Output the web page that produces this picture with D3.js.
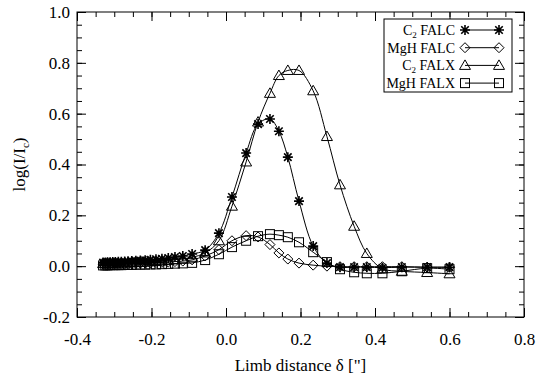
<!DOCTYPE html>
<html><head><meta charset="utf-8">
<script src="https://cdn.jsdelivr.net/npm/d3@7/dist/d3.min.js"></script>
<style>body{margin:0;background:#fff}svg text{font-family:"Liberation Serif","Times New Roman",serif !important;fill:#000}</style>
</head><body><svg id="c" width="552" height="382"></svg>
<script>
// Limb distance grid (arcsec)
const limbDist = [-0.330,-0.324,-0.318,-0.311,-0.304,-0.297,-0.289,-0.281,-0.272,-0.263,-0.253,-0.242,-0.230,-0.217,-0.203,-0.188,-0.172,-0.155,-0.137,-0.116,-0.091,
  -0.056,-0.019,0.016,0.054,0.086,0.118,0.142,0.166,0.196,0.234,0.271,0.306,0.344,0.378,0.420,0.472,0.540,0.600];
const c2Falc = [0.014,0.014,0.015,0.015,0.016,0.016,0.017,0.017,0.018,0.019,0.020,0.021,0.022,0.023,0.025,0.027,0.029,0.032,0.036,0.040,0.048,
  0.063,0.130,0.272,0.445,0.559,0.579,0.531,0.429,0.256,0.079,0.012,-0.004,-0.004,-0.004,-0.006,-0.004,-0.004,-0.004];
const mghFalc = [0.008,0.008,0.008,0.009,0.009,0.009,0.009,0.010,0.010,0.010,0.011,0.011,0.012,0.012,0.013,0.014,0.015,0.016,0.018,0.020,0.025,
  0.040,0.065,0.100,0.120,0.115,0.085,0.052,0.028,0.012,0.004,0.000,-0.002,-0.002,-0.002,-0.002,-0.002,-0.004,-0.004];
const c2Falx = [0.010,0.010,0.011,0.011,0.011,0.012,0.012,0.012,0.013,0.013,0.014,0.014,0.015,0.016,0.017,0.018,0.020,0.022,0.025,0.029,0.035,
  0.052,0.100,0.236,0.410,0.567,0.680,0.750,0.770,0.770,0.690,0.510,0.320,0.157,0.050,-0.010,-0.020,-0.025,-0.030];
const mghFalx = [0.003,0.003,0.003,0.004,0.004,0.004,0.004,0.004,0.005,0.005,0.005,0.006,0.006,0.006,0.007,0.007,0.008,0.009,0.010,0.011,0.013,
  0.024,0.047,0.075,0.100,0.118,0.126,0.122,0.114,0.094,0.055,0.016,-0.012,-0.024,-0.028,-0.028,-0.020,-0.008,-0.012];

const xTicks = [-0.4,-0.2,0.0,0.2,0.4,0.6,0.8];
const xTickLabels = ["-0.4","-0.2","0.0","0.2","0.4","0.6","0.8"];
const yTicks = [-0.2,0.0,0.2,0.4,0.6,0.8,1.0];
const yTickLabels = ["-0.2","0.0","0.2","0.4","0.6","0.8","1.0"];
const seriesNames = ["C2 FALC","MgH FALC","C2 FALX","MgH FALX"];
const seriesMarkers = ["asterisk","diamond","triangle","square"];

const FONT = '"Liberation Serif","Times New Roman",serif';
const svg = d3.select("#c");
svg.append("rect").attr("width",552).attr("height",382).attr("fill","#fff");
const L=77,R=524,T=12,B=317;
const x = d3.scaleLinear().domain([-0.4,0.8]).range([L,R]);
const y = d3.scaleLinear().domain([-0.2,1.0]).range([B,T]);

const xMinor = d3.range(-0.4,0.8001,0.05).map(v=>+v.toFixed(2));
const yMinor = d3.range(-0.2,1.0001,0.05).map(v=>+v.toFixed(2));
const fmt = (ticks,labels)=> d => labels[ticks.findIndex(t=>Math.abs(t-d)<1e-9)];

function axis(gen, pos, ticks, labels, minor, pad){
  const gMin = svg.append("g").attr("transform",pos)
    .call(gen.tickValues(minor).tickSize(-5).tickFormat(""));
  const gMaj = svg.append("g").attr("transform",pos)
    .call(gen.tickValues(ticks).tickSize(-9).tickPadding(pad).tickFormat(labels?fmt(ticks,labels):""));
  [gMin,gMaj].forEach(g=>{g.attr("font-family",FONT).style("font-family",FONT); g.select(".domain").remove(); g.selectAll("line").attr("stroke","#000");});
  gMaj.selectAll("text").attr("font-size",17).style("font-family",FONT);
}
axis(d3.axisBottom(x), `translate(0,${B})`, xTicks, xTickLabels, xMinor, 16);
axis(d3.axisTop(x), `translate(0,${T})`, xTicks, null, xMinor, 8);
axis(d3.axisLeft(y), `translate(${L},0)`, yTicks, yTickLabels, yMinor, 7);
axis(d3.axisRight(y), `translate(${R},0)`, yTicks, null, yMinor, 8);
svg.append("rect").attr("x",L).attr("y",T).attr("width",R-L).attr("height",B-T)
  .attr("fill","none").attr("stroke","#000").attr("stroke-width",1);

function marker(g, type, cx, cy){
  const s=5;
  if(type==="asterisk"){
    const p = `M${cx-s},${cy}L${cx+s},${cy}M${cx},${cy-s}L${cx},${cy+s}M${cx-s*0.75},${cy-s*0.75}L${cx+s*0.75},${cy+s*0.75}M${cx-s*0.75},${cy+s*0.75}L${cx+s*0.75},${cy-s*0.75}`;
    g.append("path").attr("d",p).attr("stroke","#000").attr("stroke-width",1.6).attr("fill","none");
  } else if(type==="diamond"){
    g.append("path").attr("d",`M${cx},${cy-s}L${cx+s},${cy}L${cx},${cy+s}L${cx-s},${cy}Z`).attr("stroke","#000").attr("fill","none");
  } else if(type==="triangle"){
    g.append("path").attr("d",`M${cx},${cy-5.5}L${cx+5.5},${cy+4}L${cx-5.5},${cy+4}Z`).attr("stroke","#000").attr("fill","none");
  } else {
    g.append("rect").attr("x",cx-4.5).attr("y",cy-4.5).attr("width",9).attr("height",9).attr("stroke","#000").attr("fill","none");
  }
}

const allSeries = [c2Falc,mghFalc,c2Falx,mghFalx];
const line = d3.line().x(d=>x(d[0])).y(d=>y(d[1])).curve(d3.curveCatmullRom.alpha(0.5));
allSeries.forEach((vals,i)=>{
  const pts = limbDist.map((d,j)=>[d,vals[j]]);
  const g = svg.append("g");
  g.append("path").attr("d",line(pts)).attr("fill","none").attr("stroke","#000").attr("stroke-width",1);
  pts.forEach(p=>marker(g, seriesMarkers[i], x(p[0]), y(p[1])));
});

// Legend
const lg = svg.append("g");
lg.append("rect").attr("x",384).attr("y",19).attr("width",128).attr("height",73)
  .attr("fill","#fff").attr("stroke","#000");
seriesNames.forEach((nm,i)=>{
  const yy = 30 + i*17.7;
  const t = lg.append("text").attr("x",455).attr("y",yy+5).attr("text-anchor","end").attr("font-size",14);
  if(nm.startsWith("C2")){
    t.append("tspan").text("C");
    t.append("tspan").text("2").attr("font-size",9).attr("dy",3);
    t.append("tspan").text(nm.slice(2)).attr("dy",-3);
  } else t.text(nm);
  lg.append("line").attr("x1",465).attr("x2",499).attr("y1",yy).attr("y2",yy).attr("stroke","#000");
  marker(lg, seriesMarkers[i], 465, yy);
  marker(lg, seriesMarkers[i], 499, yy);
});

// Axis titles
svg.append("text").attr("x",(L+R)/2).attr("y",371).attr("text-anchor","middle").attr("font-size",17)
  .text("Limb distance \u03b4 [\"]");
const yl = svg.append("text").attr("transform",`translate(25,${(T+B)/2}) rotate(-90)`).attr("text-anchor","middle").attr("font-size",17);
yl.append("tspan").text("log(I/I");
yl.append("tspan").text("c").attr("font-size",11).attr("dy",4);
yl.append("tspan").text(")").attr("dy",-4);
</script></body></html>
